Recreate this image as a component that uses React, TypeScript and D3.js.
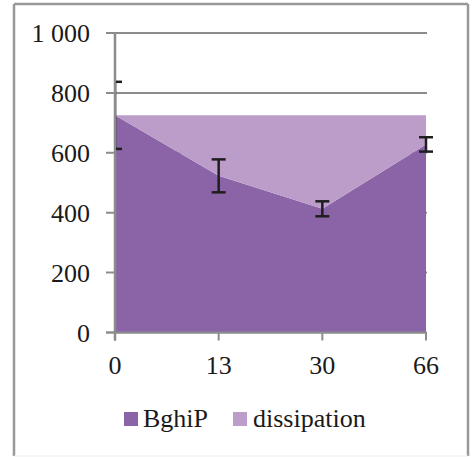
import React from "react";
import * as d3 from "d3";

const categories = ["0", "13", "30", "66"];
const bghip = [725, 523, 413, 628];
const dissipation = [0, 202, 312, 97];
const errors = [112, 55, 25, 24];
const yTicks = [0, 200, 400, 600, 800, 1000];
const seriesNames = ["BghiP", "dissipation"];
const colors = ["#8B64A8", "#BC9DCA"];

const W = 475, H = 457;
const left = 115, right = 426, top = 33, bottom = 332.5;
const FONT = "'Liberation Serif', 'Times New Roman', serif";

export default function App() {
  const x = d3.scalePoint<string>().domain(categories).range([left, right]);
  const y = d3.scaleLinear().domain([0, 1000]).range([bottom, top]);

  const rows = categories.map((c, i) => ({ cat: c, BghiP: bghip[i], dissipation: dissipation[i] }));
  const stacked = d3.stack<any>().keys(seriesNames)(rows);
  const area = d3
    .area<any>()
    .x((d) => x(d.data.cat) as number)
    .y0((d) => y(d[0]))
    .y1((d) => y(d[1]));

  const fmt = (v: number) => (v >= 1000 ? d3.format(",")(v).replace(",", " ") : String(v));
  const grid = "#8c8c8c";
  const textStyle = { fontFamily: FONT, fontSize: "26px" } as React.CSSProperties;

  return (
    <svg width={W} height={H} style={{ position: "absolute", left: 0, top: 0 }}>
      <rect x={0} y={0} width={W} height={H} fill="#fff" />
      {/* outer border */}
      <line x1={14} y1={4} x2={14} y2={456} stroke="#999" strokeWidth={2.5} />
      <line x1={14} y1={4} x2={468} y2={4} stroke="#999" strokeWidth={2.5} />
      <line x1={468} y1={4} x2={468} y2={456} stroke="#999" strokeWidth={2.5} />
      <line x1={14} y1={456} x2={468} y2={456} stroke="#eee" strokeWidth={1} />
      <defs>
        <clipPath id="plotclip">
          <rect x={left + 1} y={0} width={right - left + 30} height={H} />
        </clipPath>
      </defs>
      {/* gridlines */}
      {yTicks.map((t) => (
        <line key={t} x1={left - 9} x2={right + 1} y1={y(t)} y2={y(t)} stroke={grid} strokeWidth={2} />
      ))}
      {/* areas */}
      {stacked.map((s, i) => (
        <path key={s.key} d={area(s as any) || ""} fill={colors[i]} />
      ))}
      {/* axes */}
      <line x1={left} x2={left} y1={top} y2={bottom + 8} stroke={grid} strokeWidth={2.5} />
      <line x1={left - 9} x2={right} y1={bottom} y2={bottom} stroke={grid} strokeWidth={2} />
      {categories.map((c) => (
        <line key={c} x1={x(c)} x2={x(c)} y1={bottom} y2={bottom + 8} stroke={grid} strokeWidth={2} />
      ))}
      {/* error bars */}
      <g clipPath="url(#plotclip)" stroke="#1e1e1e" strokeWidth={2.5}>
        {categories.map((c, i) => {
          const cx = x(c) as number;
          const hi = y(bghip[i] + errors[i]);
          const lo = y(bghip[i] - errors[i]);
          return (
            <g key={c}>
              <line x1={cx} x2={cx} y1={hi} y2={lo} />
              <line x1={cx - 7} x2={cx + 7} y1={hi} y2={hi} />
              <line x1={cx - 7} x2={cx + 7} y1={lo} y2={lo} />
            </g>
          );
        })}
      </g>
      {/* y tick labels */}
      {yTicks.map((t) => (
        <text key={t} x={90} y={y(t) + 9} textAnchor="end" style={textStyle} fill="#1a1a1a">
          {fmt(t)}
        </text>
      ))}
      {/* x tick labels */}
      {categories.map((c) => (
        <text key={c} x={x(c)} y={374} textAnchor="middle" style={textStyle} fill="#1a1a1a">
          {c}
        </text>
      ))}
      {/* legend */}
      <rect x={124} y={412} width={14} height={14} fill={colors[0]} />
      <text x={143} y={427} style={textStyle} fill="#1a1a1a">{seriesNames[0]}</text>
      <rect x={233} y={412} width={14} height={14} fill={colors[1]} />
      <text x={253} y={427} style={textStyle} fill="#1a1a1a">{seriesNames[1]}</text>
    </svg>
  );
}
